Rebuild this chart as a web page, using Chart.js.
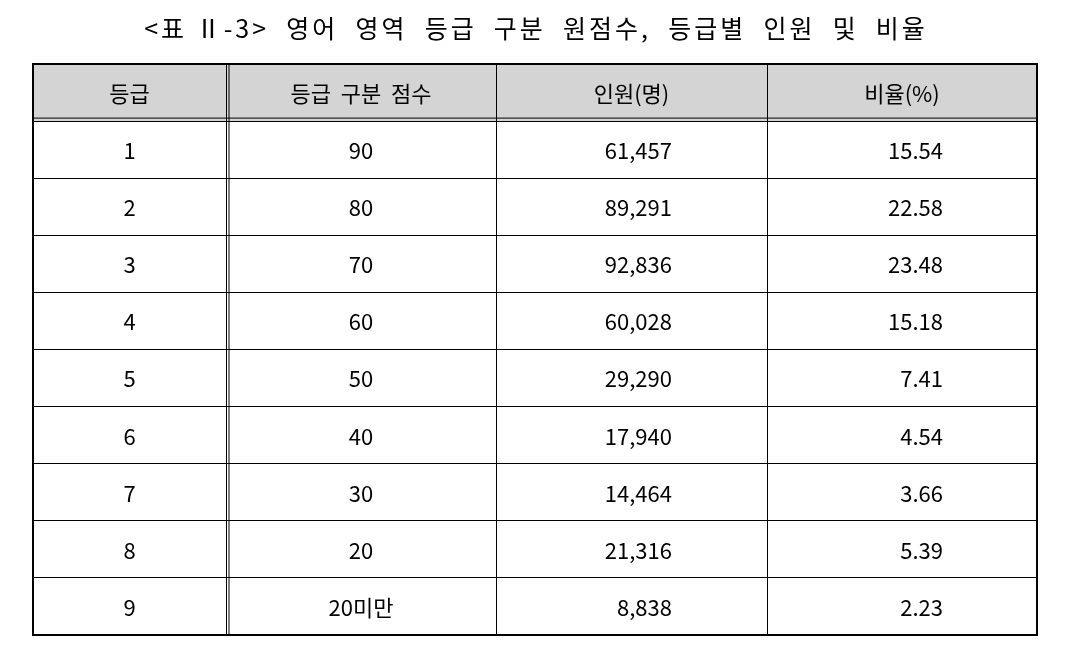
<!DOCTYPE html>
<html>
<head>
<meta charset="utf-8">
<script src="https://cdn.jsdelivr.net/npm/chart.js@4"></script>
<style>
  body { margin: 0; background: #fff; }
  #wrap { width: 1068px; height: 672px; }
</style>
</head>
<body>
<div id="wrap"><canvas id="myChart" width="1068" height="672"></canvas></div>
<script>
'use strict';

const title = '<표 Ⅱ-3>  영어  영역  등급  구분  원점수,  등급별  인원  및  비율';
const headers = ['등급', '등급  구분  점수', '인원(명)', '비율(%)'];
const grades = ['1', '2', '3', '4', '5', '6', '7', '8', '9'];
const cutScores = ['90', '80', '70', '60', '50', '40', '30', '20', '20미만'];
const counts = ['61,457', '89,291', '92,836', '60,028', '29,290', '17,940', '14,464', '21,316', '8,838'];
const ratios = ['15.54', '22.58', '23.48', '15.18', '7.41', '4.54', '3.66', '5.39', '2.23'];

// column edges in table units (pixels from left border)
const colEdges = [0, 193, 463, 734, 1004];
const rowEdges = [0, 1, 2, 3, 4, 5, 6, 7, 8, 9, 10];

const ctx = document.getElementById('myChart').getContext('2d');
const FONT = '"Noto Sans CJK KR", "Noto Sans", sans-serif';

const tablePlugin = {
  id: 'tableText',
  beforeDraw(chart) {
    const c = chart.ctx;
    const x = chart.scales.x, y = chart.scales.y;
    c.save();
    c.fillStyle = '#d4d4d4';
    c.fillRect(x.left, y.getPixelForValue(0), x.right - x.left, y.getPixelForValue(1) - y.getPixelForValue(0));
    c.restore();
  },
  afterDraw(chart) {
    const c = chart.ctx;
    const x = chart.scales.x, y = chart.scales.y;
    c.save();
    // title
    c.fillStyle = '#000';
    c.font = '25px ' + FONT;
    c.letterSpacing = '3px';
    c.textAlign = 'center';
    c.textBaseline = 'middle';
    c.fillText(title, 536, 28);
    c.letterSpacing = '0px';

    // double lines
    c.strokeStyle = '#000';
    c.lineWidth = 1;
    let hy = y.getPixelForValue(1);
    c.beginPath();
    c.moveTo(x.left, hy - 3); c.lineTo(x.right, hy - 3);
    let vx = x.getPixelForValue(colEdges[1]);
    c.moveTo(vx + 3, y.top); c.lineTo(vx + 3, y.bottom);
    c.stroke();
    // outer border
    c.lineWidth = 2;
    c.strokeRect(x.left, y.top, x.right - x.left, y.bottom - y.top);

    c.font = '22px ' + FONT;
    const mid = i => (x.getPixelForValue(colEdges[i]) + x.getPixelForValue(colEdges[i + 1])) / 2;
    const rowMid = r => (y.getPixelForValue(r) + y.getPixelForValue(r + 1)) / 2 + 1;
    c.textAlign = 'center';
    headers.forEach((h, i) => c.fillText(h, mid(i), rowMid(0)));
    for (let r = 0; r < grades.length; r++) {
      const yy = rowMid(r + 1);
      c.textAlign = 'center';
      c.fillText(grades[r], mid(0), yy);
      c.fillText(cutScores[r], mid(1), yy);
      c.textAlign = 'right';
      c.fillText(counts[r], x.getPixelForValue(colEdges[2]) + 176, yy);
      c.fillText(ratios[r], x.getPixelForValue(colEdges[3]) + 176, yy);
    }
    c.restore();
  }
};

const myChart = new Chart(ctx, {
  type: 'scatter',
  data: { datasets: [{ data: [] }] },
  plugins: [tablePlugin],
  options: {
    responsive: false,
    animation: false,
    layout: { padding: { left: 33, top: 64, right: 31, bottom: 37 } },
    plugins: { legend: { display: false }, tooltip: { enabled: false } },
    scales: {
      x: {
        type: 'linear', min: 0, max: 1004,
        afterBuildTicks: s => { s.ticks = colEdges.map(v => ({ value: v })); },
        ticks: { display: false },
        grid: { color: '#000', lineWidth: 1, drawTicks: false },
        border: { display: false }
      },
      y: {
        type: 'linear', min: 0, max: 10, reverse: true,
        afterBuildTicks: s => { s.ticks = rowEdges.map(v => ({ value: v })); },
        ticks: { display: false },
        grid: { color: '#000', lineWidth: 1, drawTicks: false },
        border: { display: false }
      }
    }
  }
});
</script>
</body>
</html>
